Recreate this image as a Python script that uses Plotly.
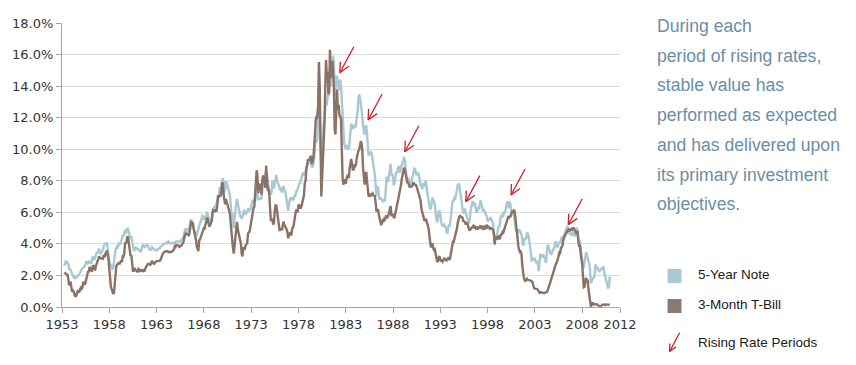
import math
import plotly.graph_objects as go

# ---------------- data (monthly, Apr 1953 - Dec 2010, % yield) ----------------
note5 = [
    2.62, 2.87, 2.94, 2.75, 2.80, 2.71, 2.43, 2.42, 2.32,                      # 1953 (Apr-Dec)
    2.17, 2.04, 1.93, 1.87, 1.92, 1.92, 1.85, 1.90, 1.96, 2.02, 2.09, 2.16,    # 1954
    2.32, 2.38, 2.48, 2.55, 2.56, 2.59, 2.72, 2.86, 2.85, 2.76, 2.81, 2.93,    # 1955
    2.84, 2.74, 2.93, 3.20, 3.08, 3.00, 3.11, 3.41, 3.47, 3.40, 3.56, 3.70,    # 1956
    3.47, 3.39, 3.46, 3.53, 3.64, 3.83, 4.00, 4.00, 4.03, 4.08, 3.72, 3.08,    # 1957
    2.88, 2.78, 2.64, 2.46, 2.41, 2.46, 2.77, 3.29, 3.69, 3.78, 3.70, 3.82,    # 1958
    4.01, 3.96, 3.99, 4.12, 4.35, 4.50, 4.58, 4.57, 4.90, 4.72, 4.75, 5.01,    # 1959
    4.92, 4.69, 4.31, 4.29, 4.49, 4.12, 3.79, 3.62, 3.61, 3.76, 3.81, 3.67,    # 1960
    3.67, 3.66, 3.60, 3.57, 3.47, 3.81, 3.84, 3.96, 3.90, 3.80, 3.82, 3.91,    # 1961
    3.94, 3.89, 3.68, 3.60, 3.66, 3.64, 3.80, 3.71, 3.70, 3.64, 3.60, 3.56,    # 1962
    3.58, 3.66, 3.68, 3.74, 3.72, 3.81, 3.89, 3.89, 3.96, 3.97, 4.01, 4.04,    # 1963
    4.07, 4.03, 4.14, 4.15, 4.05, 4.02, 4.03, 4.05, 4.08, 4.07, 4.04, 4.09,    # 1964
    4.10, 4.15, 4.15, 4.15, 4.15, 4.15, 4.15, 4.20, 4.25, 4.34, 4.46, 4.72,    # 1965
    4.86, 4.98, 4.92, 4.83, 4.89, 4.97, 5.17, 5.50, 5.50, 5.27, 5.36, 5.00,    # 1966
    4.70, 4.74, 4.54, 4.51, 4.75, 5.01, 5.23, 5.31, 5.40, 5.57, 5.78, 5.75,    # 1967
    5.54, 5.59, 5.76, 5.69, 6.04, 5.85, 5.60, 5.50, 5.48, 5.55, 5.66, 6.12,    # 1968
    6.25, 6.34, 6.41, 6.30, 6.54, 6.75, 7.01, 7.03, 7.57, 7.51, 7.53, 7.96,    # 1969
    8.17, 7.82, 7.21, 7.50, 7.97, 7.85, 7.59, 7.57, 7.29, 7.12, 6.47, 5.95,    # 1970
    5.89, 5.56, 5.00, 5.65, 6.28, 6.53, 6.85, 6.55, 6.14, 5.93, 5.78, 5.69,    # 1971
    5.59, 5.69, 5.87, 6.17, 5.85, 5.91, 5.97, 6.02, 6.25, 6.18, 6.12, 6.16,    # 1972
    6.34, 6.60, 6.80, 6.67, 6.80, 6.69, 7.33, 7.63, 7.05, 6.77, 6.92, 6.80,    # 1973
    6.95, 6.82, 7.31, 7.92, 8.18, 8.10, 8.38, 8.63, 8.37, 7.97, 7.68, 7.31,    # 1974
    7.41, 7.11, 7.30, 7.99, 7.72, 7.51, 7.92, 8.33, 8.37, 7.97, 7.80, 7.76,    # 1975
    7.46, 7.45, 7.49, 7.25, 7.59, 7.61, 7.49, 7.31, 7.13, 6.75, 6.52, 6.10,    # 1976
    6.58, 6.83, 6.93, 6.79, 6.94, 6.76, 6.84, 7.03, 7.04, 7.32, 7.34, 7.48,    # 1977
    7.77, 7.83, 7.86, 7.98, 8.18, 8.36, 8.54, 8.33, 8.43, 8.61, 8.84, 9.08,    # 1978
    9.20, 9.13, 9.20, 9.25, 9.24, 8.85, 8.90, 9.06, 9.41, 10.63, 10.93, 10.42, # 1979
    10.74, 12.60, 13.47, 11.84, 9.95, 9.21, 9.53, 10.84, 11.62, 11.86, 12.83, 13.25,  # 1980
    12.77, 13.41, 13.41, 13.99, 14.63, 13.95, 14.79, 15.56, 15.93, 15.41, 13.38, 13.60,  # 1981
    14.65, 14.54, 13.98, 13.90, 13.75, 14.43, 14.07, 13.00, 12.25, 10.80, 10.38, 10.22,  # 1982
    10.03, 10.26, 10.08, 10.02, 10.03, 10.63, 11.21, 11.63, 11.43, 11.28, 11.41, 11.54,  # 1983
    11.37, 11.54, 12.02, 12.37, 13.17, 13.48, 13.27, 12.68, 12.53, 12.06, 11.33, 11.07,  # 1984
    10.93, 11.13, 11.52, 11.01, 10.34, 9.60, 9.70, 9.81, 9.81, 9.69, 9.28, 8.73,         # 1985
    8.68, 8.34, 7.46, 7.05, 7.52, 7.64, 7.06, 6.80, 6.92, 6.83, 6.76, 6.67,    # 1986
    6.64, 6.79, 6.79, 7.57, 8.26, 8.02, 8.01, 8.32, 8.94, 9.08, 8.35, 8.45,    # 1987
    8.18, 7.71, 7.83, 8.19, 8.58, 8.49, 8.66, 8.94, 8.69, 8.51, 8.79, 9.09,    # 1988
    9.15, 9.27, 9.51, 9.30, 8.91, 8.29, 7.83, 8.09, 8.17, 7.97, 7.81, 7.75,    # 1989
    8.12, 8.42, 8.60, 8.77, 8.74, 8.43, 8.33, 8.44, 8.51, 8.33, 8.02, 7.73,    # 1990
    7.70, 7.47, 7.77, 7.70, 7.70, 7.94, 7.91, 7.43, 7.14, 6.87, 6.62, 6.19,    # 1991
    6.24, 6.58, 6.95, 6.78, 6.69, 6.48, 5.84, 5.60, 5.38, 5.60, 6.04, 6.08,    # 1992
    5.83, 5.43, 5.19, 5.13, 5.20, 5.22, 5.09, 5.03, 4.73, 4.71, 5.06, 5.15,    # 1993
    5.09, 5.40, 5.94, 6.52, 6.78, 6.70, 6.91, 6.88, 7.08, 7.40, 7.72, 7.78,    # 1994
    7.76, 7.37, 7.05, 6.86, 6.41, 5.93, 6.01, 6.24, 6.00, 5.86, 5.69, 5.51,    # 1995
    5.36, 5.38, 5.97, 6.30, 6.48, 6.69, 6.64, 6.39, 6.60, 6.27, 5.97, 6.07,    # 1996
    6.33, 6.20, 6.54, 6.76, 6.57, 6.38, 6.12, 6.16, 6.11, 5.93, 5.80, 5.77,    # 1997
    5.42, 5.49, 5.61, 5.61, 5.63, 5.52, 5.46, 5.27, 4.62, 4.18, 4.54, 4.45,    # 1998
    4.60, 4.91, 5.14, 5.08, 5.44, 5.81, 5.68, 5.84, 5.80, 6.03, 5.97, 6.19,    # 1999
    6.58, 6.68, 6.50, 6.26, 6.69, 6.30, 6.18, 6.06, 5.93, 5.78, 5.70, 5.17,    # 2000
    4.86, 4.89, 4.64, 4.76, 4.93, 4.81, 4.76, 4.57, 4.12, 3.91, 3.97, 4.39,    # 2001
    4.34, 4.30, 4.74, 4.65, 4.49, 4.19, 3.81, 3.29, 2.94, 2.95, 3.05, 3.03,    # 2002
    3.05, 2.90, 2.78, 2.93, 2.52, 2.27, 2.87, 3.37, 3.18, 3.19, 3.29, 3.27,    # 2003
    3.12, 3.07, 2.79, 3.39, 3.85, 3.93, 3.69, 3.47, 3.36, 3.35, 3.53, 3.60,    # 2004
    3.71, 3.77, 4.17, 4.00, 3.85, 3.77, 3.98, 4.12, 4.01, 4.33, 4.45, 4.39,    # 2005
    4.35, 4.57, 4.72, 4.90, 5.00, 5.07, 5.04, 4.82, 4.67, 4.69, 4.58, 4.53,    # 2006
    4.75, 4.71, 4.48, 4.59, 4.67, 5.03, 4.88, 4.43, 4.20, 4.20, 3.67, 3.49,    # 2007
    2.98, 2.78, 2.48, 2.84, 3.15, 3.49, 3.30, 3.14, 2.88, 2.73, 2.29, 1.52,    # 2008
    1.60, 1.87, 1.82, 1.86, 2.13, 2.71, 2.46, 2.57, 2.37, 2.33, 2.23, 2.34,    # 2009
    2.48, 2.36, 2.43, 2.58, 2.18, 2.00, 1.76, 1.47, 1.41, 1.18, 1.35, 1.93,    # 2010
]

tbill3 = [
    2.19, 2.16, 2.11, 2.04, 2.04, 1.79, 1.38, 1.44, 1.60,                      # 1953 (Apr-Dec)
    1.18, 0.97, 1.03, 0.96, 0.76, 0.64, 0.72, 0.92, 1.01, 0.98, 0.93, 1.14,    # 1954
    1.23, 1.17, 1.28, 1.59, 1.45, 1.41, 1.60, 1.90, 2.07, 2.23, 2.24, 2.54,    # 1955
    2.41, 2.32, 2.25, 2.60, 2.61, 2.49, 2.31, 2.60, 2.84, 2.90, 2.99, 3.21,    # 1956
    3.11, 3.10, 3.08, 3.06, 3.06, 3.29, 3.16, 3.37, 3.53, 3.58, 3.29, 3.04,    # 1957
    2.44, 1.53, 1.30, 1.13, 0.91, 0.83, 0.91, 1.69, 2.44, 2.63, 2.67, 2.77,    # 1958
    2.82, 2.70, 2.80, 2.95, 2.84, 3.21, 3.20, 3.38, 4.04, 4.05, 4.15, 4.49,    # 1959
    4.35, 3.96, 3.31, 3.23, 3.29, 2.46, 2.30, 2.30, 2.48, 2.30, 2.37, 2.25,    # 1960
    2.24, 2.42, 2.39, 2.29, 2.29, 2.33, 2.24, 2.39, 2.28, 2.30, 2.48, 2.60,    # 1961
    2.72, 2.73, 2.72, 2.73, 2.68, 2.73, 2.92, 2.82, 2.78, 2.74, 2.83, 2.87,    # 1962
    2.91, 2.92, 2.89, 2.90, 2.93, 2.99, 3.18, 3.32, 3.38, 3.45, 3.52, 3.52,    # 1963
    3.52, 3.53, 3.54, 3.47, 3.48, 3.48, 3.46, 3.50, 3.53, 3.57, 3.64, 3.84,    # 1964
    3.81, 3.93, 3.93, 3.93, 3.89, 3.80, 3.84, 3.84, 3.92, 4.03, 4.08, 4.36,    # 1965
    4.60, 4.67, 4.63, 4.61, 4.64, 4.50, 4.80, 4.96, 5.37, 5.35, 5.32, 4.96,    # 1966
    4.72, 4.56, 4.26, 3.84, 3.60, 3.54, 4.21, 4.27, 4.42, 4.56, 4.73, 4.97,    # 1967
    5.00, 4.98, 5.17, 5.38, 5.66, 5.52, 5.31, 5.09, 5.19, 5.35, 5.45, 5.96,    # 1968
    6.14, 6.12, 6.02, 6.11, 6.04, 6.44, 7.00, 6.98, 7.09, 7.00, 7.24, 7.82,    # 1969
    7.87, 7.13, 6.63, 6.51, 6.84, 6.68, 6.45, 6.41, 6.12, 5.91, 5.28, 4.87,    # 1970
    4.44, 3.70, 3.38, 3.86, 4.14, 4.75, 5.40, 4.94, 4.69, 4.46, 4.22, 4.01,    # 1971
    3.38, 3.20, 3.73, 3.71, 3.69, 3.91, 3.98, 4.02, 4.66, 4.74, 4.78, 5.07,    # 1972
    5.41, 5.60, 6.09, 6.26, 6.36, 7.19, 8.01, 8.67, 8.29, 7.22, 7.83, 7.45,    # 1973
    7.77, 7.12, 7.96, 8.33, 8.23, 7.90, 7.55, 8.96, 8.06, 7.46, 7.47, 7.15,    # 1974
    6.26, 5.50, 5.49, 5.61, 5.23, 5.34, 6.13, 6.44, 6.42, 5.96, 5.48, 5.44,    # 1975
    4.87, 4.88, 5.00, 4.86, 5.20, 5.41, 5.23, 5.14, 5.08, 4.92, 4.75, 4.35,    # 1976
    4.62, 4.67, 4.60, 4.54, 4.96, 5.02, 5.19, 5.49, 5.81, 6.16, 6.10, 6.07,    # 1977
    6.44, 6.45, 6.29, 6.29, 6.41, 6.73, 7.01, 7.08, 7.85, 7.99, 8.64, 9.08,    # 1978
    9.35, 9.27, 9.46, 9.49, 9.58, 9.05, 9.26, 9.45, 10.18, 11.47, 11.87, 12.07,  # 1979
    12.04, 12.81, 15.53, 14.00, 9.15, 7.00, 8.13, 9.26, 10.32, 11.58, 13.89, 15.66,  # 1980
    14.72, 14.90, 13.48, 13.63, 16.30, 14.56, 14.70, 15.61, 14.95, 13.87, 11.27, 10.93,  # 1981
    12.41, 13.78, 12.49, 12.82, 12.15, 12.11, 11.91, 9.01, 8.20, 7.75, 8.04, 8.01,        # 1982
    7.81, 8.13, 8.30, 8.25, 8.19, 8.82, 9.12, 9.39, 9.05, 8.71, 8.71, 8.96,    # 1983
    8.93, 9.03, 9.44, 9.69, 9.90, 9.94, 10.13, 10.49, 10.41, 9.97, 8.79, 8.16, # 1984
    7.76, 8.22, 8.57, 8.00, 7.56, 7.01, 7.05, 7.18, 7.08, 7.17, 7.20, 7.07,    # 1985
    7.04, 7.03, 6.59, 6.06, 6.12, 6.21, 5.84, 5.57, 5.19, 5.18, 5.35, 5.49,    # 1986
    5.45, 5.59, 5.56, 5.76, 5.75, 5.69, 5.78, 6.00, 6.32, 6.40, 5.81, 5.80,    # 1987
    5.90, 5.69, 5.69, 5.92, 6.27, 6.50, 6.73, 7.02, 7.23, 7.34, 7.68, 8.09,    # 1988
    8.29, 8.48, 8.83, 8.70, 8.40, 8.22, 7.92, 7.91, 7.72, 7.63, 7.65, 7.64,    # 1989
    7.64, 7.74, 7.90, 7.77, 7.74, 7.73, 7.62, 7.45, 7.36, 7.17, 7.06, 6.74,    # 1990
    6.22, 5.94, 5.91, 5.65, 5.46, 5.57, 5.58, 5.33, 5.22, 4.99, 4.56, 4.07,    # 1991
    3.80, 3.84, 4.04, 3.75, 3.63, 3.66, 3.21, 3.13, 2.91, 2.86, 3.13, 3.22,    # 1992
    3.00, 2.93, 2.95, 2.87, 2.96, 3.07, 3.04, 3.02, 2.95, 3.02, 3.10, 3.06,    # 1993
    2.98, 3.25, 3.50, 3.68, 4.14, 4.14, 4.33, 4.48, 4.62, 4.95, 5.29, 5.60,    # 1994
    5.71, 5.77, 5.73, 5.65, 5.67, 5.47, 5.42, 5.40, 5.28, 5.28, 5.36, 5.14,    # 1995
    5.00, 4.83, 4.96, 4.95, 5.02, 5.09, 5.15, 5.05, 5.09, 4.99, 5.03, 4.91,    # 1996
    5.03, 5.01, 5.14, 5.16, 5.05, 4.93, 5.05, 5.14, 4.95, 4.97, 5.14, 5.16,    # 1997
    5.04, 5.09, 5.03, 4.95, 5.00, 4.98, 4.96, 4.90, 4.61, 3.96, 4.41, 4.39,    # 1998
    4.34, 4.45, 4.48, 4.28, 4.51, 4.59, 4.60, 4.76, 4.73, 4.88, 5.07, 5.20,    # 1999
    5.32, 5.55, 5.69, 5.66, 5.79, 5.69, 5.96, 6.09, 6.00, 6.11, 6.17, 5.77,    # 2000
    5.15, 4.88, 4.42, 3.87, 3.62, 3.49, 3.51, 3.36, 2.64, 2.16, 1.87, 1.69,    # 2001
    1.65, 1.73, 1.79, 1.72, 1.73, 1.70, 1.68, 1.62, 1.63, 1.58, 1.23, 1.19,    # 2002
    1.17, 1.17, 1.13, 1.13, 1.07, 0.92, 0.90, 0.95, 0.94, 0.92, 0.93, 0.90,    # 2003
    0.88, 0.93, 0.94, 0.94, 1.02, 1.27, 1.33, 1.48, 1.65, 1.76, 2.07, 2.19,    # 2004
    2.33, 2.54, 2.74, 2.78, 2.84, 2.97, 3.22, 3.44, 3.42, 3.71, 3.88, 3.89,    # 2005
    4.24, 4.43, 4.51, 4.60, 4.72, 4.79, 4.95, 4.96, 4.81, 4.92, 4.94, 4.85,    # 2006
    4.98, 5.03, 4.94, 4.87, 4.73, 4.61, 4.82, 4.20, 3.89, 3.90, 3.27, 3.00,    # 2007
    2.75, 2.12, 1.26, 1.29, 1.73, 1.86, 1.63, 1.72, 1.13, 0.67, 0.19, 0.03,    # 2008
    0.13, 0.30, 0.22, 0.16, 0.18, 0.18, 0.18, 0.17, 0.12, 0.07, 0.05, 0.05,    # 2009
    0.06, 0.11, 0.15, 0.16, 0.16, 0.12, 0.16, 0.16, 0.15, 0.13, 0.14, 0.14,    # 2010
]

start_year = 1953
start_month = 4

# Rising rate period markers (arrow tip positions: year, yield %)
arrow_years = [1982.38, 1985.37, 1989.25, 1995.70, 2000.48, 2006.53]
arrow_values = [14.85, 11.85, 9.84, 6.68, 7.10, 5.21]

x_tick_years = [1953, 1958, 1963, 1968, 1973, 1978, 1983, 1988, 1993, 1998, 2003, 2008, 2012]
y_ticks = [0, 2, 4, 6, 8, 10, 12, 14, 16, 18]

series_names = ["5-Year Note", "3-Month T-Bill"]
legend_arrow_label = "Rising Rate Periods"
side_text = [
    "During each",
    "period of rising rates,",
    "stable value has",
    "performed as expected",
    "and has delivered upon",
    "its primary investment",
    "objectives.",
]

# ---------------- styles / layout ----------------
W_FIG, H_FIG = 856, 365
L, R, T, B = 57, 236, 23, 58
PW, PH = W_FIG - L - R, H_FIG - T - B

BLUE = "#a8c8d2"
BROWN = "#8a7266"
RED = "#cc1f2d"
TEXT_BLUE = "#6a8ea6"


def px_x(xp):
    return (xp - L) / PW


def px_y(yp):
    return 1 - (yp - T) / PH


x_dates = [start_year + (start_month - 1 + i) / 12 for i in range(len(note5))]

fig = go.Figure()
fig.add_trace(go.Scatter(x=x_dates, y=note5, mode="lines", name=series_names[0],
                         line=dict(color=BLUE, width=2.4), showlegend=False, hoverinfo="skip"))
fig.add_trace(go.Scatter(x=x_dates[:len(tbill3)], y=tbill3, mode="lines", name=series_names[1],
                         line=dict(color=BROWN, width=2.4), showlegend=False, hoverinfo="skip"))

shapes = []
annotations = []

# arrow geometry (pixels): tail offset from head, barb definition
SHAFT = (14, 26)
BARB_LEN = 11
BARB_SPREAD = 26


def arrow_shapes(xref, yref, xa, ya, scale=1.0):
    out = []
    dx, dy = SHAFT[0] * scale, SHAFT[1] * scale
    common = dict(type="line", xref=xref, yref=yref, xsizemode="pixel", ysizemode="pixel",
                  xanchor=xa, yanchor=ya, line=dict(color=RED, width=1.3), layer="above")
    out.append(dict(x0=0, y0=0, x1=dx, y1=dy, **common))
    ang = math.degrees(math.atan2(dy, dx))
    for s in (-BARB_SPREAD, BARB_SPREAD):
        a = math.radians(ang + s)
        bl = BARB_LEN * scale
        out.append(dict(x0=0, y0=0, x1=bl * math.cos(a), y1=bl * math.sin(a), **common))
    return out


for ax_, ay_ in zip(arrow_years, arrow_values):
    shapes += arrow_shapes("x", "y", ax_, ay_)

# side text
for i, line in enumerate(side_text):
    annotations.append(dict(
        x=px_x(655.5), y=px_y(26 + i * 29.7), xref="paper", yref="paper",
        xanchor="left", yanchor="middle", showarrow=False, text=line,
        font=dict(family="Liberation Sans, Arial, sans-serif", size=17.6, color=TEXT_BLUE)))

# custom legend
legend_items = [(series_names[0], BLUE, 276), (series_names[1], "#8a7b72", 306)]
for name, col, cy in legend_items:
    shapes.append(dict(type="rect", xref="paper", yref="paper",
                       x0=px_x(668), x1=px_x(682), y0=px_y(cy - 7), y1=px_y(cy + 7),
                       fillcolor=col, line=dict(width=0)))
    annotations.append(dict(x=px_x(696.5), y=px_y(cy - 2), xref="paper", yref="paper",
                            xanchor="left", yanchor="middle", showarrow=False, text=name,
                            font=dict(family="Liberation Sans, Arial, sans-serif", size=13.5,
                                      color="#1a1a1a")))
shapes += arrow_shapes("paper", "paper", px_x(670), px_y(351.5), scale=0.72)
annotations.append(dict(x=px_x(696.5), y=px_y(342), xref="paper", yref="paper",
                        xanchor="left", yanchor="middle", showarrow=False, text=legend_arrow_label,
                        font=dict(family="Liberation Sans, Arial, sans-serif", size=13.5,
                                  color="#1a1a1a")))

tick_font = dict(family="DejaVu Sans, Verdana, sans-serif", size=13, color="#333333")

fig.update_layout(
    width=W_FIG, height=H_FIG,
    margin=dict(l=L, r=R, t=T, b=B, pad=0),
    paper_bgcolor="white", plot_bgcolor="white",
    shapes=shapes, annotations=annotations,
    showlegend=False, hovermode=False,
    xaxis=dict(range=[1953, 2012], tickmode="array", tickvals=x_tick_years,
               ticktext=[str(v) for v in x_tick_years], showgrid=False, zeroline=False,
               showline=True, linecolor="#a6a6a6", linewidth=1.2,
               ticks="outside", ticklen=5, tickcolor="#a6a6a6", tickfont=tick_font),
    yaxis=dict(range=[0, 18], tickmode="array", tickvals=y_ticks,
               ticktext=[f"{v:.1f}%" for v in y_ticks], showgrid=True, gridcolor="#dcdcdc",
               gridwidth=1, zeroline=False, showline=True, linecolor="#a6a6a6", linewidth=1.2,
               ticks="outside", ticklen=5, tickcolor="#a6a6a6", tickfont=tick_font),
)

fig.write_html("out.html", config={"displayModeBar": False},
               post_script="document.body.style.margin='0';")
